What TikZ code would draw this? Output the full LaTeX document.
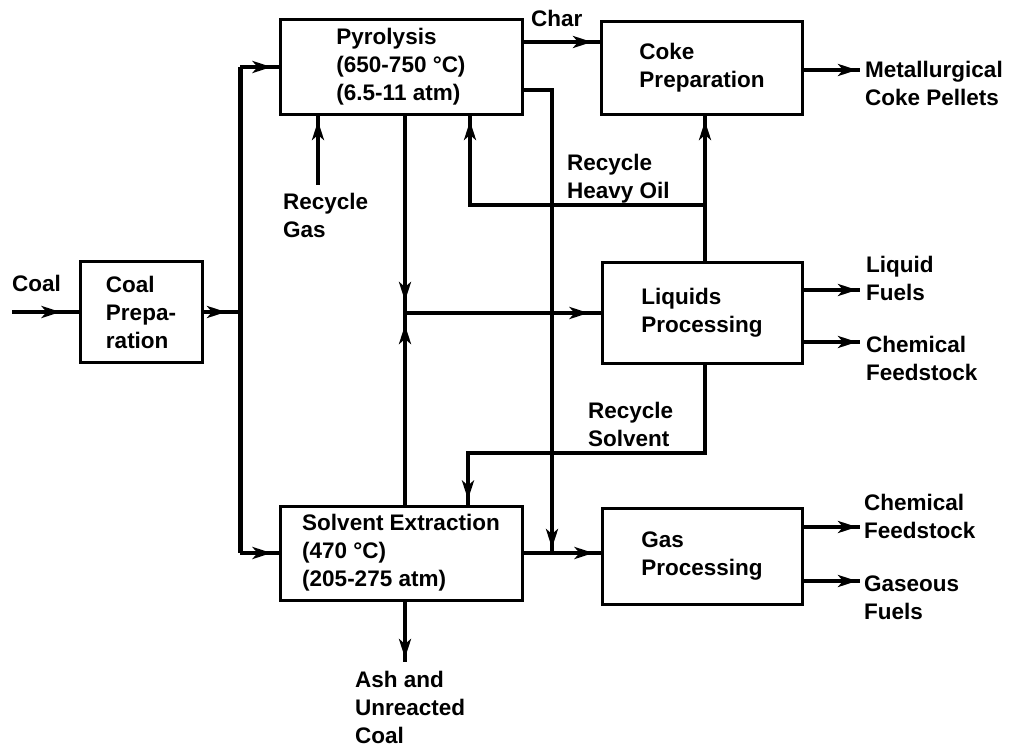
\documentclass[tikz,border=0pt]{standalone}
\usepackage{fontspec}
\setmainfont{Liberation Sans}
\usetikzlibrary{arrows.meta,decorations.markings}
\begin{document}
\begin{tikzpicture}[x=1pt,y=-1pt,
  every node/.style={font=\fontsize{22.5}{28}\selectfont\bfseries, inner sep=0pt, align=left},
  box/.style={draw, line width=3pt},
  flow/.style={line width=3.5pt},
  bus/.style={line width=5pt},
  arr/.style={postaction={decorate},decoration={markings,mark=at position #1 with {\arrow{Stealth[length=19pt,width=12pt,inset=5pt]}}}}]
\useasboundingbox (0,0) rectangle (1014,751);

% boxes
\node[box,minimum width=122pt,minimum height=100pt] (coalprep) at (141,312) {Coal\\Prepa-\\ration};
\node[box,minimum width=242pt,minimum height=95pt] (pyro) at (401,67) {Pyrolysis\\(650-750 °C)\\(6.5-11 atm)};
\node[box,minimum width=201pt,minimum height=93pt] (coke) at (702,68) {Coke\\Preparation};
\node[box,minimum width=200pt,minimum height=100pt] (liq) at (702,313) {Liquids\\Processing};
\node[box,minimum width=242pt,minimum height=94pt] (solv) at (401,553) {Solvent Extraction\\(470 °C)\\(205-275 atm)};
\node[box,minimum width=200pt,minimum height=96pt] (gas) at (702,556) {Gas\\Processing};

% labels
\node[anchor=west] (coallbl) at (12,283) {Coal};
\node[anchor=west] (charlbl) at (531,18) {Char};
\node[anchor=west] (rgas) at (283,215) {Recycle\\Gas};
\node[anchor=west] (rheavy) at (567,179) {Recycle\\Heavy Oil};
\node[anchor=west] (rsolv) at (588,424) {Recycle\\Solvent};
\node[anchor=west] (met) at (865,83) {Metallurgical\\Coke Pellets};
\node[anchor=west] (lfuel) at (866,278) {Liquid\\Fuels};
\node[anchor=west] (lchem) at (866,358) {Chemical\\Feedstock};
\node[anchor=west] (gchem) at (864,516) {Chemical\\Feedstock};
\node[anchor=west] (gfuel) at (864,598) {Gaseous\\Fuels};
\node[anchor=west] (ash) at (355,707) {Ash and\\Unreacted\\Coal};

% coordinates
\coordinate (coalin) at (12,312);
\coordinate (bt) at (240,67);
\coordinate (bb) at (240,553);
\coordinate (bj) at (240,312);
\coordinate (lj) at (405,313);
\coordinate (gj) at (552,553);
\coordinate (hj) at (705,205);
\coordinate (hp) at (470,205);
\coordinate (sj) at (705,453);
\coordinate (sp) at (468,453);
\coordinate (gasin) at (318,185);
\coordinate (ashout) at (405,662);
\coordinate (metin) at (860,70);
\coordinate (lfin) at (860,290);
\coordinate (lcin) at (860,342);
\coordinate (gcin) at (860,527);
\coordinate (gfin) at (860,581);

% connectors
\draw[flow,arr=-18pt] (coalin) -- (coalprep.west);
\draw[flow,arr=-14pt] (coalprep.east) -- (bj);
\draw[bus] (bt) -- (bb);
\draw[flow,arr=-7pt] (bt) -- (pyro.west);
\draw[flow,arr=-7pt] (bb) -- (solv.west);
\draw[flow,arr=-8pt] (pyro.east |- 0,42) -- (coke.west |- 0,42);
\draw[flow,arr=-3pt] (coke.east |- metin) -- (metin);
\draw[flow,arr=-5pt] (pyro.east |- 0,90) -| (gj);
\draw[flow,arr=-7pt] (solv.east) -- (gas.west |- solv.east);
\draw[flow,arr=-12pt] (pyro.south -| lj) -- (lj);
\draw[flow,arr=-12pt] (solv.north -| lj) -- (lj);
\draw[flow,arr=-12pt] (lj) -- (liq.west |- lj);
\draw[flow,arr=-5pt] (gasin) -- (pyro.south -| gasin);
\draw[flow,arr=-5pt] (liq.north -| hj) -- (coke.south -| hj);
\draw[flow,arr=-5pt] (hj) -- (hp) -- (pyro.south -| hp);
\draw[flow,arr=-5pt] (liq.south -| sj) -- (sj) -- (sp) -- (solv.north -| sp);
\draw[flow,arr=-3pt] (liq.east |- lfin) -- (lfin);
\draw[flow,arr=-3pt] (liq.east |- lcin) -- (lcin);
\draw[flow,arr=-3pt] (gas.east |- gcin) -- (gcin);
\draw[flow,arr=-3pt] (gas.east |- gfin) -- (gfin);
\draw[flow,arr=-4pt] (solv.south -| ashout) -- (ashout);
\end{tikzpicture}
\end{document}
